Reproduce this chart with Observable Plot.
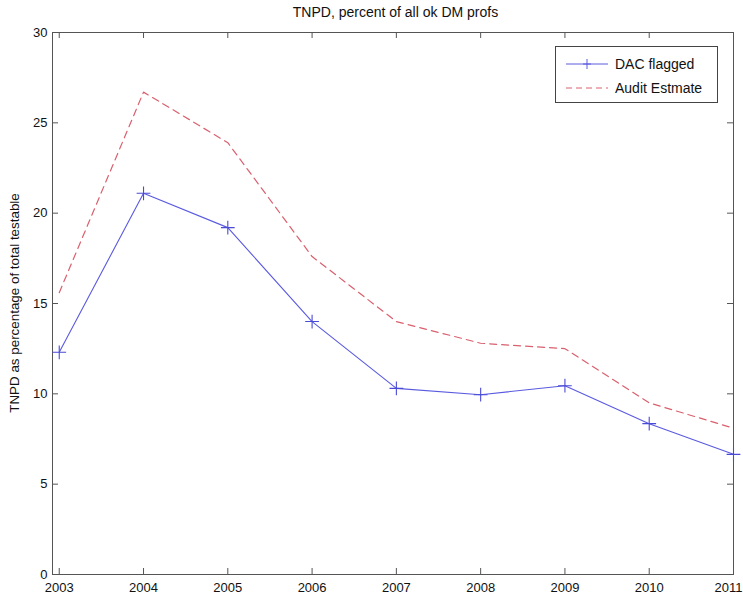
<!DOCTYPE html>
<html>
<head>
<meta charset="utf-8">
<script src="https://cdn.jsdelivr.net/npm/d3@7"></script>
<script src="https://cdn.jsdelivr.net/npm/@observablehq/plot@0.6"></script>
<style>
  body { margin: 0; background: #fff; font-family: "Liberation Sans", Arial, sans-serif; }
  #wrap { position: relative; width: 743px; height: 601px; }
  #title { height: 22px; line-height: 24px; text-align: center; font-size: 14px; padding-left: 48px; box-sizing: border-box; color: #111; }
  #legend { position: absolute; left: 555px; top: 46px; width: 161px; height: 55px; border: 1px solid #444; background: #fff; font-size: 14px; color: #111; }
  #legend .row { position: absolute; left: 8px; height: 20px; display: flex; align-items: center; }
  #legend svg { margin-right: 5px; }
</style>
</head>
<body>
<div id="wrap">
  <div id="title">TNPD, percent of all ok DM profs</div>
  <div id="chart"></div>
  <div id="legend">
    <div class="row" style="top:7px"><svg width="46" height="12"><line x1="2" y1="6" x2="44" y2="6" stroke="#5a5ae0" stroke-width="1"/><line x1="23" y1="1" x2="23" y2="11" stroke="#5a5ae0"/><line x1="19" y1="6" x2="27" y2="6" stroke="#5a5ae0"/></svg>DAC flagged</div>
    <div class="row" style="top:31px"><svg width="46" height="12"><line x1="2" y1="6" x2="44" y2="6" stroke="#d9606e" stroke-width="1" stroke-dasharray="6,4"/></svg>Audit Estmate</div>
  </div>
</div>
<script>
const years = [2003, 2004, 2005, 2006, 2007, 2008, 2009, 2010, 2011];
const dacFlagged = [12.3, 21.1, 19.2, 14.0, 10.3, 9.95, 10.45, 8.35, 6.65];
const auditEstimate = [15.6, 26.7, 23.9, 17.6, 14.0, 12.8, 12.5, 9.5, 8.1];
const yTicks = [0, 5, 10, 15, 20, 25, 30];

const dac = years.map((y, i) => ({year: y, value: dacFlagged[i]}));
const audit = years.map((y, i) => ({year: y, value: auditEstimate[i]}));

const W = 743, H = 579, mT = 10, mB = 27, mL = 52, mR = 10;
const plotW = W - mL - mR, plotH = H - mT - mB, T = 6;
const lastYear = years[years.length - 1];
const chart = Plot.plot({
  width: W,
  height: H,
  marginTop: mT,
  marginBottom: mB,
  marginLeft: mL,
  marginRight: mR,
  style: {fontFamily: "Liberation Sans, Arial, sans-serif", fontSize: "13px", color: "#111", overflow: "visible"},
  x: {domain: [2002.92, 2011], ticks: years, label: null},
  y: {domain: [0, 30], ticks: yTicks},
  marks: [
    Plot.frame({stroke: "#555"}),
    Plot.axisX(years.slice(0, -1), {anchor: "bottom", tickSize: 0, tickPadding: 8, tickFormat: d => String(d), fontSize: 13, label: null}),
    Plot.axisX([lastYear], {anchor: "bottom", tickSize: 0, tickPadding: 8, tickFormat: d => String(d), fontSize: 13, label: null, dx: -5}),
    Plot.tickX(years, {x: d => d, insetTop: plotH - T, stroke: "#555"}),
    Plot.tickX(years, {x: d => d, insetBottom: plotH - T, stroke: "#555"}),
    Plot.axisY(yTicks, {anchor: "left", tickSize: 0, tickPadding: 5, fontSize: 13, label: null}),
    Plot.tickY(yTicks, {y: d => d, insetRight: plotW - T, stroke: "#555"}),
    Plot.tickY(yTicks, {y: d => d, insetLeft: plotW - T, stroke: "#555"}),
    Plot.line(audit, {x: "year", y: "value", stroke: "#d9606e", strokeWidth: 1.2, strokeDasharray: "7,5"}),
    Plot.line(dac, {x: "year", y: "value", stroke: "#5a5ae0", strokeWidth: 1.1}),
    Plot.dot(dac, {x: "year", y: "value", symbol: "plus", r: 4.5, stroke: "#4a4ad8", strokeWidth: 1.1})
  ]
});
const svg = d3.select(chart);
svg.append("text")
  .attr("transform", `translate(19,${mT + plotH / 2}) rotate(-90)`)
  .attr("text-anchor", "middle")
  .attr("font-size", "13.4px")
  .attr("fill", "#111")
  .text("TNPD as percentage of total testable");
document.getElementById("chart").appendChild(chart);
</script>
</body>
</html>
